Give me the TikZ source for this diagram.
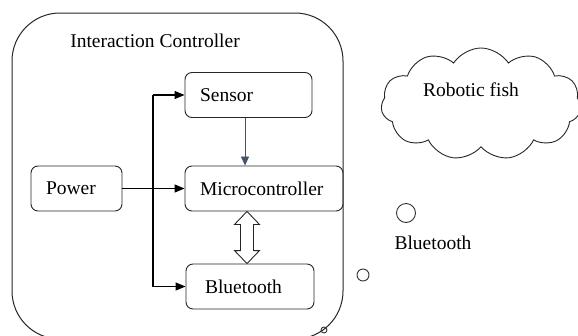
\documentclass[tikz,border=0pt]{standalone}
\usepackage{fontspec}
\setmainfont{Liberation Serif}
\usetikzlibrary{arrows.meta,shapes.symbols,calc}
\begin{document}
\begin{tikzpicture}[x=1pt,y=-1pt,
  font=\fontsize{19.5}{21}\selectfont,
  box/.style={draw=black!85, line width=0.9pt, rounded corners=7pt, align=left, inner ysep=0pt, minimum height=45pt},
  arr/.style={line width=1.2pt, -{Triangle[length=10pt,width=8pt]}},
  bubble/.style={circle, draw=black!80, line width=0.9pt, inner sep=0pt}
]
\useasboundingbox (0,0) rectangle (578,335);
\begin{scope}
\clip (0,0) rectangle (578,335);
% container
\draw[line width=1pt, draw=black!85, rounded corners=48pt] (12,13) rectangle (343,339);
\node (title) at (155,41) {Interaction Controller};
% boxes
\node[box, text width=97pt, inner xsep=15pt] (sn) at (248.5,95) {Sensor};
\node[box, text width=128pt, inner xsep=15pt] (mc) at (264,188.5) {Microcontroller};
\node[box, text width=90pt, inner xsep=19pt] (bt) at (250,286.5) {Bluetooth};
\node[box, text width=61pt, inner xsep=15pt] (pw) at (76.5,188.5) {Power};
% connectors
\coordinate (bx) at (153,0);
\coordinate (ax) at (245,0);
\coordinate (dx) at (247,0);
\draw[line width=1.2pt] (bx |- sn.west) -- (bx |- bt.west);
\draw[arr] (bx |- sn.west) -- (sn.west);
\draw[arr] (bx |- bt.west) -- (bt.west);
\draw[arr] (pw.east) -- (mc.west);
\draw[line width=0.8pt, draw={rgb,255:red,68;green,84;blue,106}, -{Triangle[length=9pt,width=8pt]}, fill={rgb,255:red,68;green,84;blue,106}] (ax |- sn.south) -- (ax |- mc.north);
% double arrow
\coordinate (dt) at (dx |- mc.south);
\coordinate (db) at (dx |- bt.north);
\draw[line width=0.9pt, draw=black!85, fill=white, line join=miter]
  (dt) -- ($(dt)+(12.5,13)$) -- ($(dt)+(6.5,13)$) -- ($(db)+(6.5,-13)$) -- ($(db)+(12.5,-13)$)
  -- (db) -- ($(db)+(-12.5,-13)$) -- ($(db)+(-6.5,-13)$) -- ($(dt)+(-6.5,13)$) -- ($(dt)+(-12.5,13)$) -- cycle;
% cloud
\node[cloud, draw=black!85, line width=0.9pt, cloud puffs=11, cloud puff arc=115, aspect=1.8, minimum width=200pt, minimum height=112pt] (fish) at (481,104) {};
\node (fishtxt) at (471,90) {Robotic fish};
% bubbles
\node[bubble, minimum size=19pt] (b1) at (406,213) {};
\node (bttxt) at (433,243) {Bluetooth};
\node[bubble, minimum size=12pt] (b2) at (363,275) {};
\node[bubble, minimum size=6pt] (b3) at (324,330) {};
\end{scope}
\end{tikzpicture}
\end{document}
